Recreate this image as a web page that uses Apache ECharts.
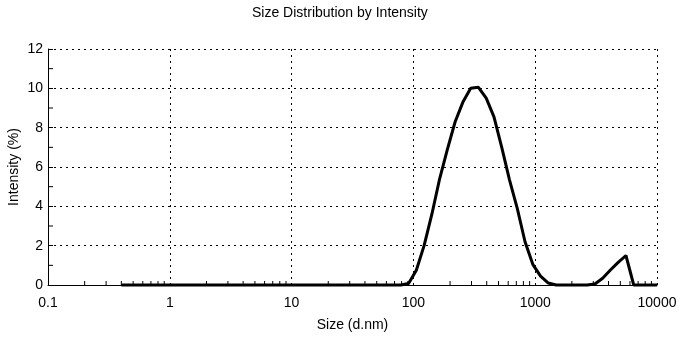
<!DOCTYPE html>
<html>
<head>
<meta charset="utf-8">
<script src="https://cdn.jsdelivr.net/npm/echarts@6/dist/echarts.min.js"></script>
<style>
html,body{margin:0;padding:0;background:#fff;}
#c{width:685px;height:338px;}
</style>
</head>
<body>
<div id="c"></div>
<script>
// Size bins (d.nm)
const sizes = [0.4, 0.4632, 0.5365, 0.6213, 0.7195, 0.8332, 0.9649, 1.117, 1.294, 1.499,
  1.736, 2.01, 2.328, 2.696, 3.122, 3.615, 4.187, 4.849, 5.615, 6.503,
  7.531, 8.721, 10.1, 11.7, 13.54, 15.69, 18.17, 21.04, 24.36, 28.21,
  32.67, 37.84, 43.82, 50.75, 58.77, 68.06, 78.82, 91.28, 105.7, 122.4,
  141.8, 164.2, 190.1, 220.2, 255, 295.3, 342, 396.1, 458.7, 531.2,
  615.1, 712.4, 825, 955.4, 1106, 1281, 1484, 1718, 1990, 2305,
  2669, 3091, 3580, 4145, 4801, 5560, 6439, 7456, 8635, 10000];
// Intensity (%)
const intensity = [0, 0, 0, 0, 0, 0, 0, 0, 0, 0,
  0, 0, 0, 0, 0, 0, 0, 0, 0, 0,
  0, 0, 0, 0, 0, 0, 0, 0, 0, 0,
  0, 0, 0, 0, 0, 0, 0, 0.08, 0.75, 2.0,
  3.6, 5.4, 6.9, 8.3, 9.3, 10.0, 10.05, 9.5, 8.55, 7.0,
  5.35, 3.9, 2.2, 1.05, 0.45, 0.1, 0, 0, 0, 0,
  0, 0.05, 0.34, 0.76, 1.15, 1.5, 0, 0, 0, 0];
const xTickLabels = ['0.1', '1', '10', '100', '1000', '10000'];
const yTicks = [0, 2, 4, 6, 8, 10, 12];
const yMinorTicks = [1, 3, 5, 7, 9, 11];
const xMinorTicks = [];
for (let d = 0.1; d < 10000; d *= 10) {
  for (let m = 2; m <= 9; m++) xMinorTicks.push(+(d * m).toPrecision(3));
}

const FONT = '"Liberation Sans", Arial, sans-serif';
const chart = echarts.init(document.getElementById('c'), null, {renderer: 'canvas'});
chart.setOption({
  animation: false,
  backgroundColor: '#fff',
  title: {
    text: 'Size Distribution by Intensity',
    left: 247, top: 1,
    textStyle: {fontFamily: FONT, fontSize: 14, fontWeight: 'normal', color: '#000'}
  },
  grid: {left: 48, right: 28, top: 49, bottom: 53, containLabel: false, outerBoundsMode: 'none'},
  xAxis: {
    type: 'log', logBase: 10, min: 0.1, max: 10000,
    name: 'Size (d.nm)', nameLocation: 'middle', nameGap: 33, nameMoveOverlap: false,
    nameTextStyle: {fontFamily: FONT, fontSize: 14, color: '#000'},
    axisLine: {show: true, onZero: false, lineStyle: {color: '#000', width: 1}},
    axisTick: {show: false},
    axisLabel: {
      fontFamily: FONT, fontSize: 14, color: '#000', margin: 11,
      formatter: function (v) {
        const i = Math.round(Math.log10(v)) + 1;
        return xTickLabels[i] !== undefined ? xTickLabels[i] : '';
      }
    },
    splitLine: {show: true, lineStyle: {color: '#000', type: [2, 4], width: 1}}
  },
  yAxis: {
    type: 'value', min: 0, max: 12, interval: 2,
    name: 'Intensity (%)', nameLocation: 'middle', nameGap: 27, nameMoveOverlap: false,
    nameTextStyle: {fontFamily: FONT, fontSize: 14, color: '#000'},
    axisLine: {show: true, lineStyle: {color: '#000', width: 1}},
    axisTick: {show: true, inside: true, length: 5, lineStyle: {color: '#000'}},
    axisLabel: {fontFamily: FONT, fontSize: 14, color: '#000', margin: 5,
      formatter: v => (yTicks.indexOf(v) >= 0 ? String(v) : '')},
    splitLine: {show: true, lineStyle: {color: '#000', type: [2, 4], width: 1}}
  },
  series: [
    {
      type: 'custom',
      silent: true,
      data: xMinorTicks.map(v => [v, 0]),
      renderItem: function (params, api) {
        const p = api.coord([api.value(0), 0]);
        return {type: 'line', shape: {x1: p[0], y1: p[1] + 1, x2: p[0], y2: p[1] - 4},
          style: {stroke: '#000', lineWidth: 1}};
      },
      z: 3
    },
    {
      type: 'custom',
      silent: true,
      data: yMinorTicks.map(v => [0.1, v]),
      renderItem: function (params, api) {
        const p = api.coord([api.value(0), api.value(1)]);
        return {type: 'line', shape: {x1: p[0], y1: p[1], x2: p[0] + 5, y2: p[1]},
          style: {stroke: '#000', lineWidth: 1}};
      },
      z: 3
    },
    {
      type: 'line',
      data: sizes.map((s, i) => [s, intensity[i]]),
      showSymbol: false,
      symbol: 'none',
      lineStyle: {color: '#000', width: 3},
      clip: false,
      z: 4
    }
  ]
});
</script>
</body>
</html>
